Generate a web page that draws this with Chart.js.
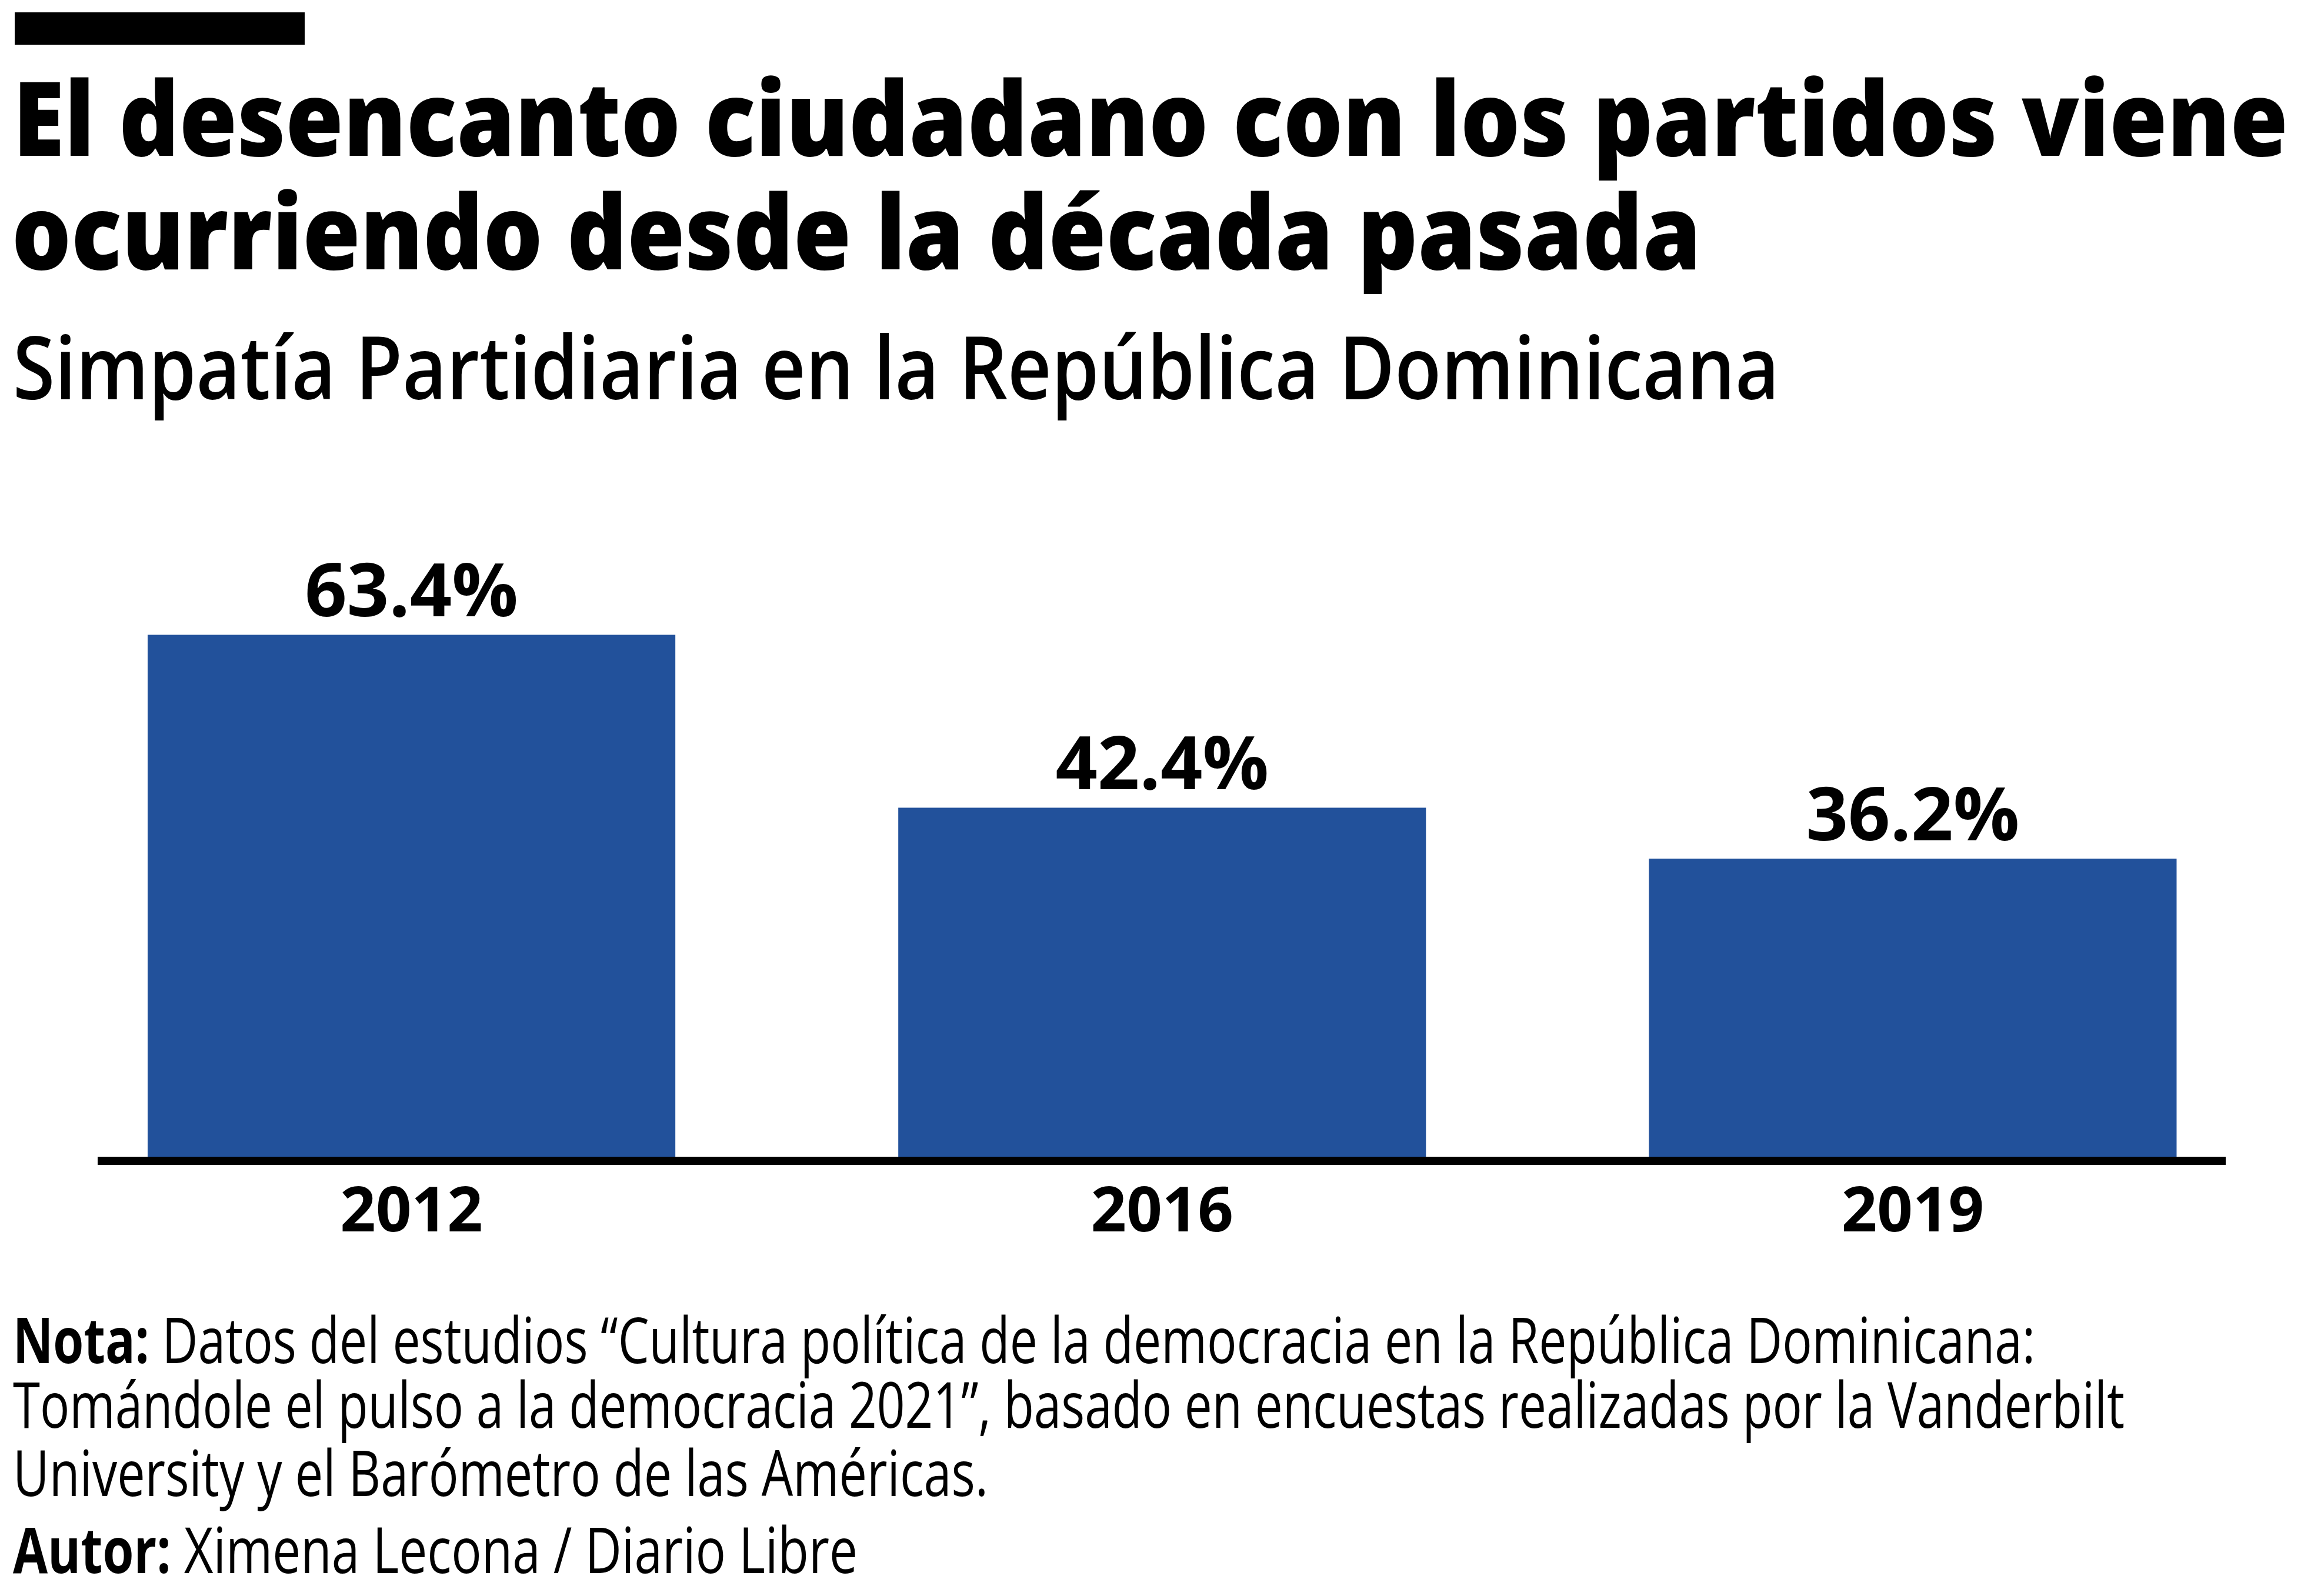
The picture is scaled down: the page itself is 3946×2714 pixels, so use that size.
<!DOCTYPE html>
<html lang="es">
<head>
<meta charset="utf-8">
<title>Simpatía Partidiaria en la República Dominicana</title>
<script src="https://cdn.jsdelivr.net/npm/chart.js@4.4.1/dist/chart.umd.min.js"></script>
<style>
  html, body { margin: 0; padding: 0; background: #fff; }
  #page { position: relative; width: 3946px; height: 2714px; overflow: hidden; background: #fff; }
  #chart { position: absolute; left: 0; top: 0; }
  .rule { position: absolute; left: 25px; top: 21px; width: 493px; height: 55px; background: #000; }
  .line { position: absolute; white-space: nowrap; color: #000; transform-origin: 0 0; line-height: 1.2; }
  .title { font-family: 'Open Sans', 'Noto Sans', sans-serif; font-weight: 800; font-size: 175px; }
  .sub { font-family: 'Open Sans', 'Noto Sans', sans-serif; font-weight: 600; font-size: 148px; }
  .note { font-family: 'Open Sans', 'Noto Sans', sans-serif; font-weight: 400; font-size: 108px; }
  .note b { font-weight: 700; }
</style>
</head>
<body>
<div id="page">
  <div class="rule"></div>
  <canvas id="chart" width="3946" height="2714"></canvas>

  <div class="line title" data-x="22" data-base="265" data-right="3890">El desencanto ciudadano con los partidos viene</div>
  <div class="line title" data-x="20" data-base="458" data-right="2892">ocurriendo desde la década pasada</div>
  <div class="line sub" data-x="22" data-base="679" data-right="3025">Simpatía Partidiaria en la República Dominicana</div>

  <div class="line note" data-x="22" data-base="2318" data-right="3460"><b>Nota:</b> Datos del estudios “Cultura política de la democracia en la República Dominicana:</div>
  <div class="line note" data-x="22" data-base="2428" data-right="3612">Tomándole el pulso a la democracia 2021”, basado en encuestas realizadas por la Vanderbilt</div>
  <div class="line note" data-x="22" data-base="2544" data-right="1680">University y el Barómetro de las Américas.</div>
  <div class="line note" data-x="22" data-base="2675" data-right="1458"><b>Autor:</b> Ximena Lecona / Diario Libre</div>
</div>

<script>
// survey years and share of people with party sympathy (%)
const years = ['2012', '2016', '2019'];
const sympathy = [63.4, 42.4, 36.2];

const barColor = '#22519b';

function pct(v) {
    return v.toFixed(1) + '%';
}

// value labels over the bars, year labels under them, and the thick baseline
const barLabels = {
    id: 'barLabels',
    afterDatasetsDraw(chart) {
        const ctx = chart.ctx;
        const meta = chart.getDatasetMeta(0);
        const zero = chart.scales.y.getPixelForValue(0);
        ctx.save();
        ctx.fillStyle = '#000';
        ctx.fillRect(166, zero, 3784 - 166, 14);
        ctx.textAlign = 'center';
        ctx.textBaseline = 'alphabetic';
        meta.data.forEach(function(bar, i) {
            ctx.font = "bold 125px 'Open Sans', 'Noto Sans', sans-serif";
            ctx.fillText(pct(sympathy[i]), bar.x, bar.y - 31);
            ctx.font = "bold 106px 'Open Sans', 'Noto Sans', sans-serif";
            ctx.fillText(chart.data.labels[i], bar.x, zero + 127);
        });
        ctx.restore();
    }
};

new Chart(document.getElementById('chart'), {
    type: 'bar',
    data: {
        labels: years,
        datasets: [{
            label: 'Simpatía partidaria',
            data: sympathy,
            backgroundColor: barColor,
            borderWidth: 0,
            categoryPercentage: 1,
            barPercentage: 0.703
        }]
    },
    options: {
        responsive: false,
        animation: false,
        devicePixelRatio: 1,
        layout: {
            padding: { left: 61.5, right: 56, top: 917, bottom: 747 }
        },
        plugins: {
            legend: { display: false },
            tooltip: { enabled: false }
        },
        scales: {
            x: { display: false },
            y: { display: false, min: 0, max: 75 }
        }
    },
    plugins: [barLabels]
});

// put each text line on its baseline and squeeze it to the reference width
function placeLines() {
    document.querySelectorAll('.line').forEach(function(el) {
        const mark = document.createElement('span');
        mark.style.display = 'inline-block';
        mark.style.width = '0';
        mark.style.height = '0';
        el.appendChild(mark);
        el.style.left = el.dataset.x + 'px';
        el.style.top = '0px';
        const box = el.getBoundingClientRect();
        const baseOff = mark.getBoundingClientRect().top - box.top;
        el.style.top = (Number(el.dataset.base) - baseOff) + 'px';
        const target = Number(el.dataset.right) - Number(el.dataset.x);
        el.style.transform = 'scaleX(' + (target / box.width) + ')';
    });
}

if (document.fonts && document.fonts.ready) {
    document.fonts.ready.then(placeLines);
} else {
    placeLines();
}
</script>
</body>
</html>
